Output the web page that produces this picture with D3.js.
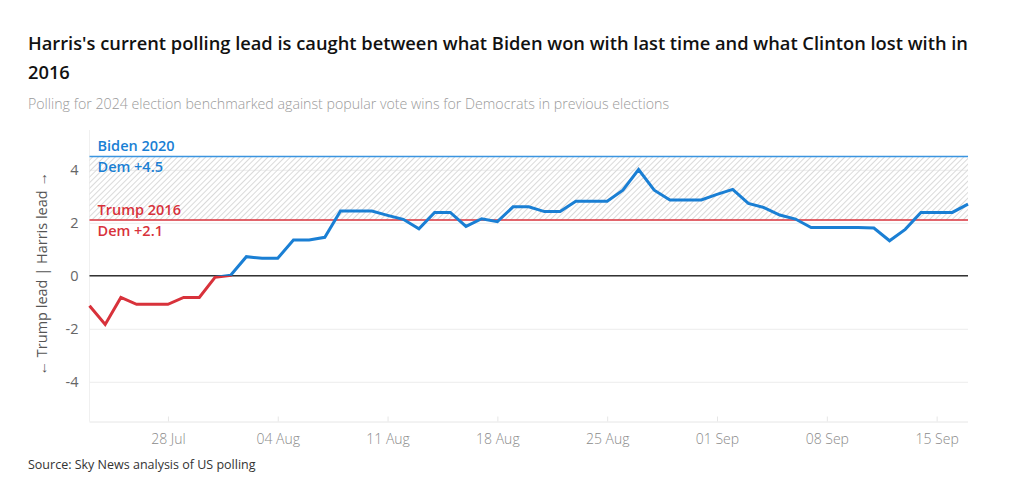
<!DOCTYPE html>
<html>
<head>
<meta charset="utf-8">
<script src="https://cdn.jsdelivr.net/npm/d3@7"></script>
<style>
  html, body { margin: 0; padding: 0; background: #fff; }
  svg { display: block; }
</style>
</head>
<body>
<svg id="chart" width="1020" height="500"></svg>
<script>
// ---- Data ----
const titleLines = [
  "Harris's current polling lead is caught between what Biden won with last time and what Clinton lost with in",
  "2016"
];
const subtitle = "Polling for 2024 election benchmarked against popular vote wins for Democrats in previous elections";
const source = "Source: Sky News analysis of US polling";
const yAxisTitle = "\u2190 Trump lead | Harris lead \u2192";

const dates = [
  "2024-07-23","2024-07-24","2024-07-25","2024-07-26","2024-07-27","2024-07-28","2024-07-29","2024-07-30","2024-07-31",
  "2024-08-01","2024-08-02","2024-08-03","2024-08-04","2024-08-05","2024-08-06","2024-08-07","2024-08-08","2024-08-09",
  "2024-08-10","2024-08-11","2024-08-12","2024-08-13","2024-08-14","2024-08-15","2024-08-16","2024-08-17","2024-08-18",
  "2024-08-19","2024-08-20","2024-08-21","2024-08-22","2024-08-23","2024-08-24","2024-08-25","2024-08-26","2024-08-27",
  "2024-08-28","2024-08-29","2024-08-30","2024-08-31","2024-09-01","2024-09-02","2024-09-03","2024-09-04","2024-09-05",
  "2024-09-06","2024-09-07","2024-09-08","2024-09-09","2024-09-10","2024-09-11","2024-09-12","2024-09-13","2024-09-14",
  "2024-09-15","2024-09-16","2024-09-17"
];
const leadValues = [
  -1.13, -1.84, -0.82, -1.08, -1.08, -1.08, -0.82, -0.82, -0.06,
  0.02, 0.72, 0.66, 0.66, 1.35, 1.35, 1.45, 2.44, 2.44,
  2.44, 2.28, 2.13, 1.77, 2.39, 2.39, 1.86, 2.15, 2.04,
  2.60, 2.60, 2.42, 2.42, 2.81, 2.81, 2.81, 3.23, 4.01,
  3.23, 2.86, 2.86, 2.86, 3.07, 3.26, 2.73, 2.57, 2.29,
  2.14, 1.82, 1.82, 1.82, 1.82, 1.80, 1.32, 1.75, 2.39,
  2.39, 2.39, 2.70
];
const benchmarkNames = ["Biden 2020", "Trump 2016"];
const benchmarkLabels = ["Dem +4.5", "Dem +2.1"];
const benchmarkValues = [4.5, 2.1];
const yTicks = [-4, -2, 0, 2, 4];
const xTickDates = ["2024-07-28","2024-08-04","2024-08-11","2024-08-18","2024-08-25","2024-09-01","2024-09-08","2024-09-15"];
const yDomain = [-5.5, 5.5];

// ---- Layout / styles ----
const BLUE = "#1a7fd4";
const BLUE_LIGHT = "#3b95e0";
const RED = "#d8323b";
const FONT = "'Open Sans', 'Noto Sans', sans-serif";
const plot = { left: 89.5, right: 968, top: 130, bottom: 421.5 };

const parse = d3.utcParse("%Y-%m-%d");
const series = dates.map((d, i) => ({ date: parse(d), value: leadValues[i] }));

const svg = d3.select("#chart");

const x = d3.scaleUtc()
  .domain([parse(dates[0]), parse(dates[dates.length - 1])])
  .range([plot.left, plot.right]);
const y = d3.scaleLinear().domain(yDomain).range([plot.bottom, plot.top]);

// Title
const title = svg.append("text")
  .attr("x", 28).attr("y", 50)
  .attr("font-family", FONT).attr("font-size", 18.3).attr("font-weight", 600)
  .attr("fill", "#111");
titleLines.forEach((t, i) => {
  title.append("tspan").attr("x", 28).attr("dy", i === 0 ? 0 : 29).text(t);
});
svg.append("text")
  .attr("x", 28).attr("y", 109)
  .attr("font-family", FONT).attr("font-size", 14.2).attr("font-weight", 300)
  .attr("fill", "#9a9a9a")
  .text(subtitle);

// Hatch pattern
const defs = svg.append("defs");
const pat = defs.append("pattern")
  .attr("id", "hatch").attr("patternUnits", "userSpaceOnUse")
  .attr("width", 4).attr("height", 4)
  .attr("patternTransform", "rotate(45)");
pat.append("line").attr("x1", 0.5).attr("y1", 0).attr("x2", 0.5).attr("y2", 4)
  .attr("stroke", "#dadada").attr("stroke-width", 1);

// clip paths for pos / neg
defs.append("clipPath").attr("id", "clipPos").append("rect")
  .attr("x", plot.left - 5).attr("y", 0).attr("width", plot.right - plot.left + 10).attr("height", y(0));
defs.append("clipPath").attr("id", "clipNeg").append("rect")
  .attr("x", plot.left - 5).attr("y", y(0)).attr("width", plot.right - plot.left + 10).attr("height", 500 - y(0));

// Left vertical edge line
svg.append("line")
  .attr("x1", plot.left).attr("x2", plot.left)
  .attr("y1", plot.top).attr("y2", plot.bottom)
  .attr("stroke", "#f0f0f0").attr("stroke-width", 1);

// Gridlines + y axis
const yAxis = d3.axisLeft(y).tickValues(yTicks).tickSize(-(plot.right - plot.left)).tickPadding(11)
  .tickFormat(d => String(d));
const yg = svg.append("g").attr("transform", `translate(${plot.left},0)`).call(yAxis);
yg.select(".domain").remove();
yg.selectAll(".tick line").attr("stroke", "#ececec").attr("stroke-width", 1);
yg.selectAll(".tick text").attr("font-family", FONT).attr("font-size", 14.5).attr("fill", "#666")
  .attr("font-weight", 400);

// Hatched band
svg.append("rect")
  .attr("x", plot.left).attr("width", plot.right - plot.left)
  .attr("y", y(benchmarkValues[0])).attr("height", y(benchmarkValues[1]) - y(benchmarkValues[0]))
  .attr("fill", "url(#hatch)");

// X axis
const xAxis = d3.axisBottom(x).tickValues(xTickDates.map(parse)).tickSize(5).tickPadding(8)
  .tickFormat(d3.utcFormat("%d %b"));
const xg = svg.append("g").attr("transform", `translate(0,${plot.bottom})`).call(xAxis);
xg.select(".domain").attr("stroke", "#e6e6e6").attr("d", `M${plot.left},0.5H${plot.right}`);
xg.selectAll(".tick line").attr("stroke", "#e6e6e6").attr("y1", -5).attr("y2", 0);
xg.selectAll(".tick text").attr("font-family", FONT).attr("font-size", 14).attr("fill", "#8a8a8a")
  .attr("font-weight", 300);

// Zero line
svg.append("line")
  .attr("x1", plot.left).attr("x2", plot.right)
  .attr("y1", y(0)).attr("y2", y(0))
  .attr("stroke", "#333").attr("stroke-width", 1.5);

// Benchmark lines
const benchColors = [BLUE_LIGHT, RED];
const benchText = [BLUE, RED];
benchmarkValues.forEach((v, i) => {
  svg.append("line")
    .attr("x1", plot.left).attr("x2", plot.right)
    .attr("y1", y(v)).attr("y2", y(v))
    .attr("stroke", benchColors[i]).attr("stroke-width", 1.5);
  svg.append("text")
    .attr("x", plot.left + 8).attr("y", y(v) - 5.5)
    .attr("font-family", FONT).attr("font-size", 14.5).attr("font-weight", 600)
    .attr("fill", benchText[i])
    .text(benchmarkNames[i]);
  svg.append("text")
    .attr("x", plot.left + 8).attr("y", y(v) + 15.5)
    .attr("font-family", FONT).attr("font-size", 14.5).attr("font-weight", 600)
    .attr("fill", benchText[i])
    .text(benchmarkLabels[i]);
});

// Lead line
const line = d3.line().x(d => x(d.date)).y(d => y(d.value));
svg.append("path").datum(series)
  .attr("d", line).attr("fill", "none")
  .attr("stroke", RED).attr("stroke-width", 3).attr("stroke-linejoin", "miter")
  .attr("clip-path", "url(#clipNeg)");
svg.append("path").datum(series)
  .attr("d", line).attr("fill", "none")
  .attr("stroke", BLUE).attr("stroke-width", 3).attr("stroke-linejoin", "miter")
  .attr("clip-path", "url(#clipPos)");

// Y axis title
svg.append("text")
  .attr("transform", `translate(47,${y(0) - 2}) rotate(-90)`)
  .attr("text-anchor", "middle")
  .attr("font-family", FONT).attr("font-size", 14.5).attr("font-weight", 400)
  .attr("fill", "#555")
  .text(yAxisTitle);

// Source
svg.append("text")
  .attr("x", 28).attr("y", 469)
  .attr("font-family", FONT).attr("font-size", 12.5).attr("font-weight", 400)
  .attr("fill", "#333")
  .text(source);
</script>
</body>
</html>
